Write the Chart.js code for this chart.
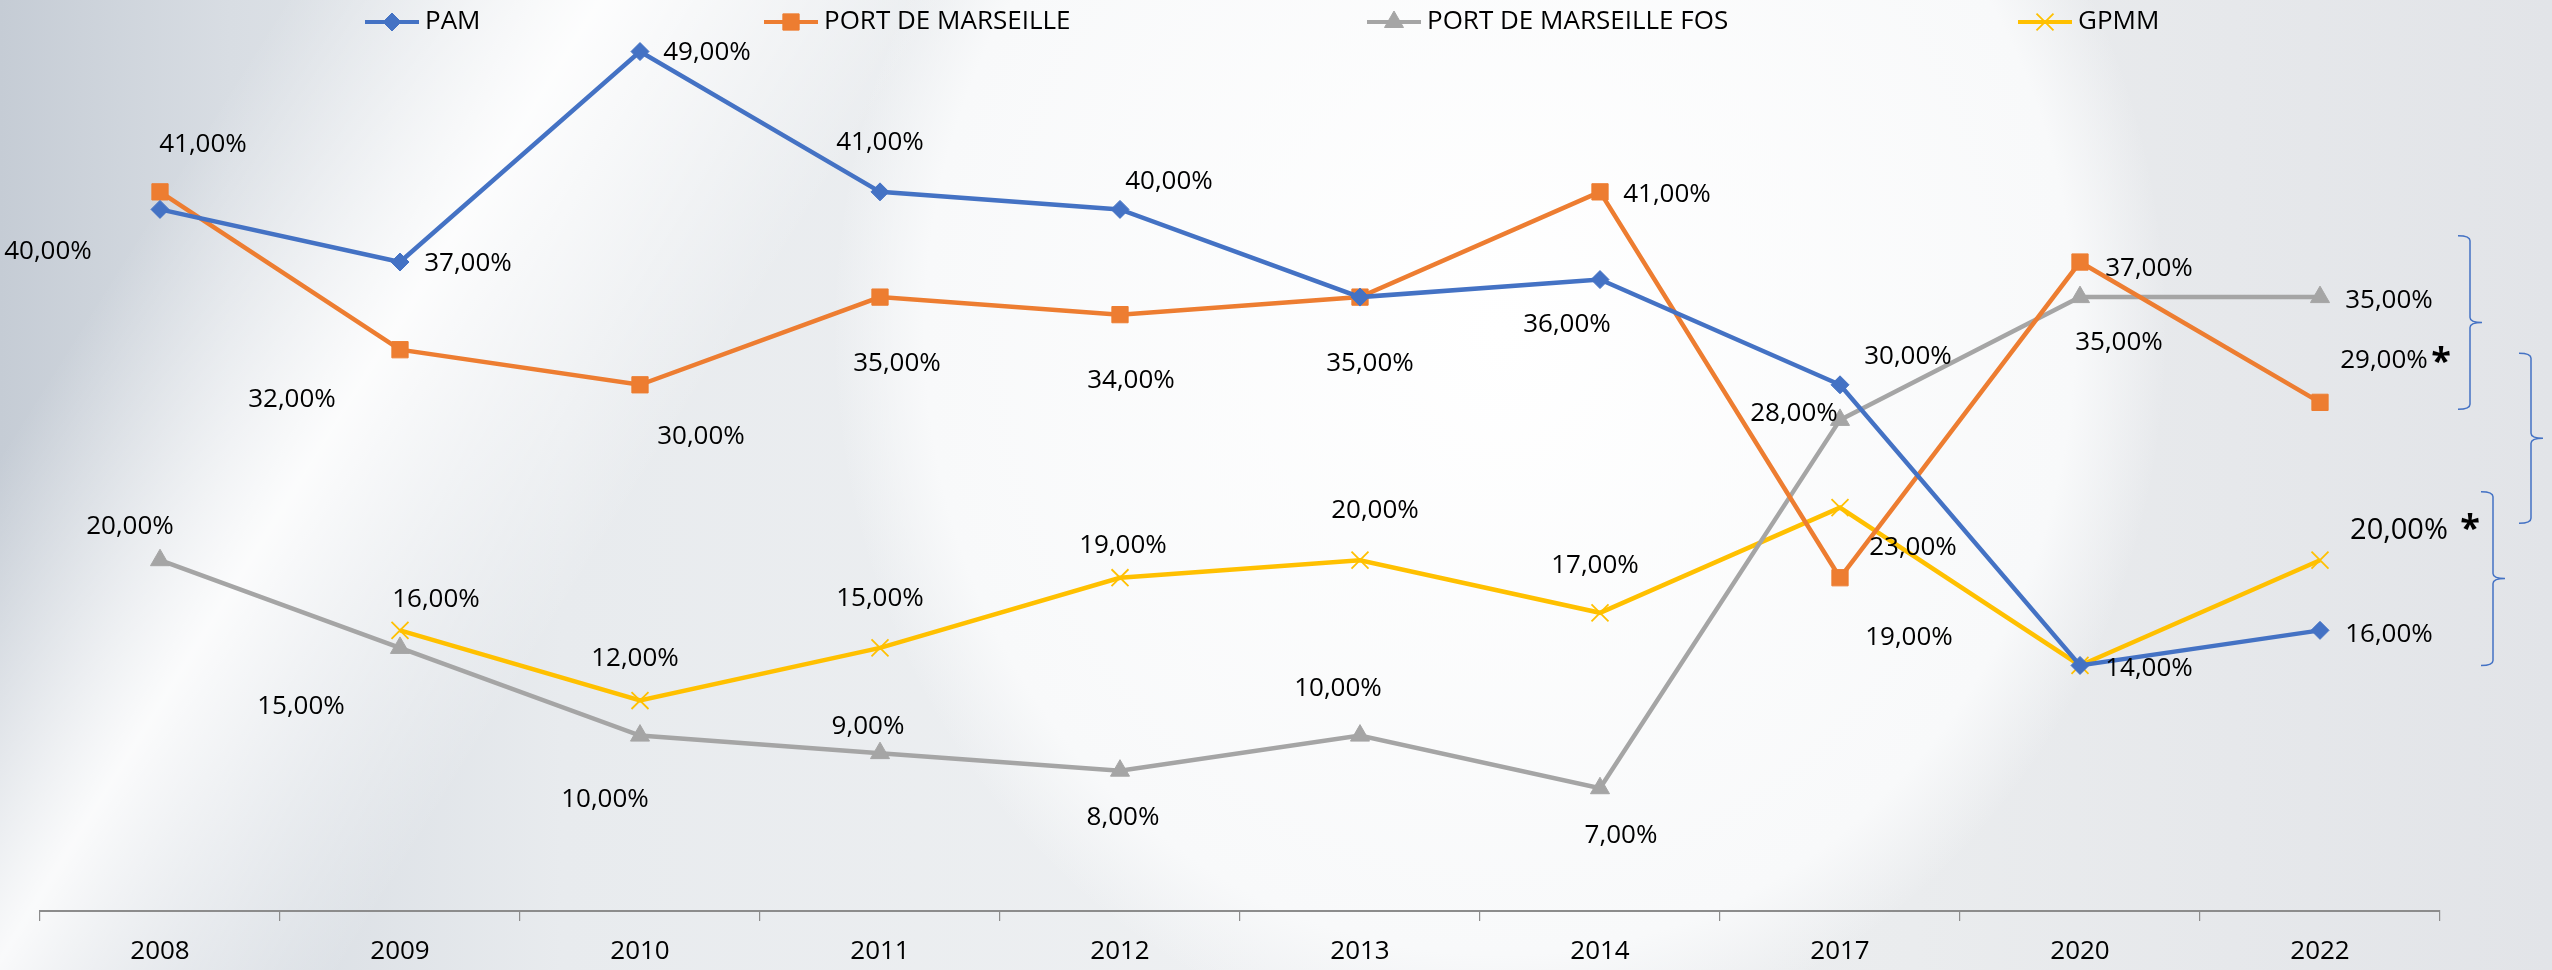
<!DOCTYPE html>
<html>
<head>
<meta charset="utf-8">
<script src="https://cdn.jsdelivr.net/npm/chart.js@4.4.0/dist/chart.umd.min.js"></script>
<style>
  html, body { margin: 0; padding: 0; overflow: hidden; }
  body {
    width: 2552px; height: 970px;
    background:
      radial-gradient(ellipse 1150px 1250px at 1500px 330px, #ffffff 0%, #f8f9fa 50%, rgba(246,247,249,0) 58%),
      linear-gradient(122deg, rgba(255,255,255,0) 9%, rgba(255,255,255,0.9) 19%, rgba(255,255,255,0) 30%),
      linear-gradient(90deg, #c5ccd5 0%, #d8dde3 9%, #e8ebee 22%, #eef0f2 50%, #eaecee 75%, #e2e4e8 100%);
  }
  #wrap { position: absolute; left: 0; top: 0; width: 2552px; height: 970px; }
</style>
</head>
<body>
<div id="wrap"><canvas id="chart"></canvas></div>
<script>
const years = ["2008", "2009", "2010", "2011", "2012", "2013", "2014", "2017", "2020", "2022"];
const pam = [40, 37, 49, 41, 40, 35, 36, 30, 14, 16];
const portMarseille = [41, 32, 30, 35, 34, 35, 41, 19, 37, 29];
const portFos = [20, 15, 10, 9, 8, 10, 7, 28, 35, 35];
const gpmm = [null, 16, 12, 15, 19, 20, 17, 23, 14, 20];

// where each value label sits relative to its point (null = no label)
const labelOffsets = {
    "PAM": [[-112, 41], [68, 1], [67, 0], [0, -50], [49, -29], [10, 65], [-33, 44], [68, -29], [69, 2], [69, 3]],
    "PORT DE MARSEILLE": [[43, -48], [-108, 49], [61, 51], [17, 65], [11, 65], null, [67, 2], [69, 59], [69, 6], [64, -43]],
    "PORT DE MARSEILLE FOS": [[-30, -35], [-99, 58], [-35, 63], [-12, -28], [3, 46], [-22, -48], [21, 46], [-46, -7], [39, 44], [69, 2]],
    "GPMM": [null, [36, -32], [-5, -43], [0, -50], [3, -33], [15, -51], [-5, -48], [73, 39], null, [79, -30]]
};

const FONT = "'Open Sans', 'Noto Sans', sans-serif";

function fmt(v){
    return v.toFixed(2).replace(".", ",") + "%";
}

const valueLabels = {
    id: "valueLabels",
    afterDatasetsDraw(chart){
        const ctx = chart.ctx;
        ctx.save();
        ctx.fillStyle = "#000";
        ctx.textAlign = "center";
        ctx.textBaseline = "middle";
        chart.data.datasets.forEach(function(ds, di){
            const meta = chart.getDatasetMeta(di);
            const offs = labelOffsets[ds.label];
            ds.data.forEach(function(v, i){
                if (v === null || !offs[i]) return;
                const pt = meta.data[i];
                const big = ds.label === "GPMM" && i === ds.data.length - 1;
                ctx.font = (big ? 29 : 26) + "px " + FONT;
                ctx.fillText(fmt(v), pt.x + offs[i][0], pt.y + offs[i][1] + 1);
            });
        });
        ctx.restore();
    }
};

const topLegend = {
    id: "topLegend",
    afterDraw(chart){
        const ctx = chart.ctx;
        const starts = [365, 764, 1367, 2018];
        ctx.save();
        chart.data.datasets.forEach(function(ds, di){
            const x = starts[di];
            const y = 22;
            ctx.strokeStyle = ds.borderColor;
            ctx.lineWidth = 4;
            ctx.beginPath();
            ctx.moveTo(x, y);
            ctx.lineTo(x + 54, y);
            ctx.stroke();
            ctx.fillStyle = ds.pointBackgroundColor;
            ctx.strokeStyle = ds.pointBorderColor;
            ctx.lineWidth = ds.pointBorderWidth;
            Chart.helpers.drawPoint(ctx, {
                pointStyle: ds.pointStyle,
                radius: ds.pointRadius,
                rotation: 0,
                borderWidth: ds.pointBorderWidth
            }, x + 27, y);
            ctx.fillStyle = "#000";
            ctx.font = "26px " + FONT;
            ctx.textAlign = "left";
            ctx.textBaseline = "middle";
            ctx.fillText(ds.label, x + 60, y);
        });
        ctx.restore();
    }
};

// curly braces and asterisks on the right side
const braces = {
    id: "braces",
    afterDraw(chart){
        const ctx = chart.ctx;
        const ys = chart.scales.y;
        const right = chart.chartArea.right;
        const list = [
            { from: 38.5, to: 28.6, x: right + 18 },
            { from: 31.8, to: 22.1, x: right + 79 },
            { from: 23.9, to: 14.0, x: right + 41 }
        ];
        ctx.save();
        ctx.strokeStyle = "#4472C4";
        ctx.lineWidth = 1.5;
        list.forEach(function(b){
            const top = ys.getPixelForValue(b.from);
            const bot = ys.getPixelForValue(b.to);
            const mid = (top + bot) / 2;
            const sp = b.x + 12;
            const r = 5;
            ctx.beginPath();
            ctx.moveTo(b.x, top);
            ctx.quadraticCurveTo(sp, top, sp, top + r);
            ctx.lineTo(sp, mid - r);
            ctx.quadraticCurveTo(sp, mid, sp + 12, mid);
            ctx.quadraticCurveTo(sp, mid, sp, mid + r);
            ctx.lineTo(sp, bot - r);
            ctx.quadraticCurveTo(sp, bot, b.x, bot);
            ctx.stroke();
        });
        ctx.fillStyle = "#000";
        ctx.font = "bold 36px " + FONT;
        ctx.textAlign = "center";
        ctx.textBaseline = "middle";
        const pm = chart.getDatasetMeta(1).data[9];
        const gm = chart.getDatasetMeta(3).data[9];
        ctx.fillText("*", pm.x + 121, pm.y - 40);
        ctx.fillText("*", gm.x + 150, gm.y - 30);
        ctx.restore();
    }
};

function series(label, data, color, style, radius, filled){
    return {
        label: label,
        data: data,
        borderColor: color,
        backgroundColor: color,
        borderWidth: 4.5,
        tension: 0,
        pointStyle: style,
        pointRadius: radius,
        pointHoverRadius: radius,
        pointBackgroundColor: filled ? color : "rgba(0,0,0,0)",
        pointBorderColor: color,
        pointBorderWidth: filled ? 1 : 1.8
    };
}

new Chart(document.getElementById("chart"), {
    type: "line",
    data: {
        labels: years,
        datasets: [
            series("PAM", pam, "#4472C4", "rectRot", 9, true),
            series("PORT DE MARSEILLE", portMarseille, "#ED7D31", "rect", 11.5, true),
            series("PORT DE MARSEILLE FOS", portFos, "#A5A5A5", "triangle", 11, true),
            series("GPMM", gpmm, "#FFC000", "crossRot", 12, false)
        ]
    },
    options: {
        responsive: true,
        maintainAspectRatio: false,
        animation: false,
        layout: { padding: { left: 40, right: 112, top: 34, bottom: 0 } },
        plugins: {
            legend: { display: false },
            tooltip: { enabled: false }
        },
        scales: {
            x: {
                offset: true,
                grid: {
                    offset: true,
                    drawOnChartArea: false,
                    drawTicks: true,
                    tickLength: 10,
                    color: "#8c8c8c",
                    lineWidth: 1.2
                },
                border: { display: true, color: "#8c8c8c", width: 2 },
                ticks: {
                    color: "#000",
                    font: { family: FONT, size: 26 },
                    padding: 15,
                    maxRotation: 0
                },
                afterFit: function(scale){ scale.height = 59; }
            },
            y: {
                display: false,
                min: 0,
                max: 50
            }
        }
    },
    plugins: [valueLabels, topLegend, braces]
});
</script>
</body>
</html>
